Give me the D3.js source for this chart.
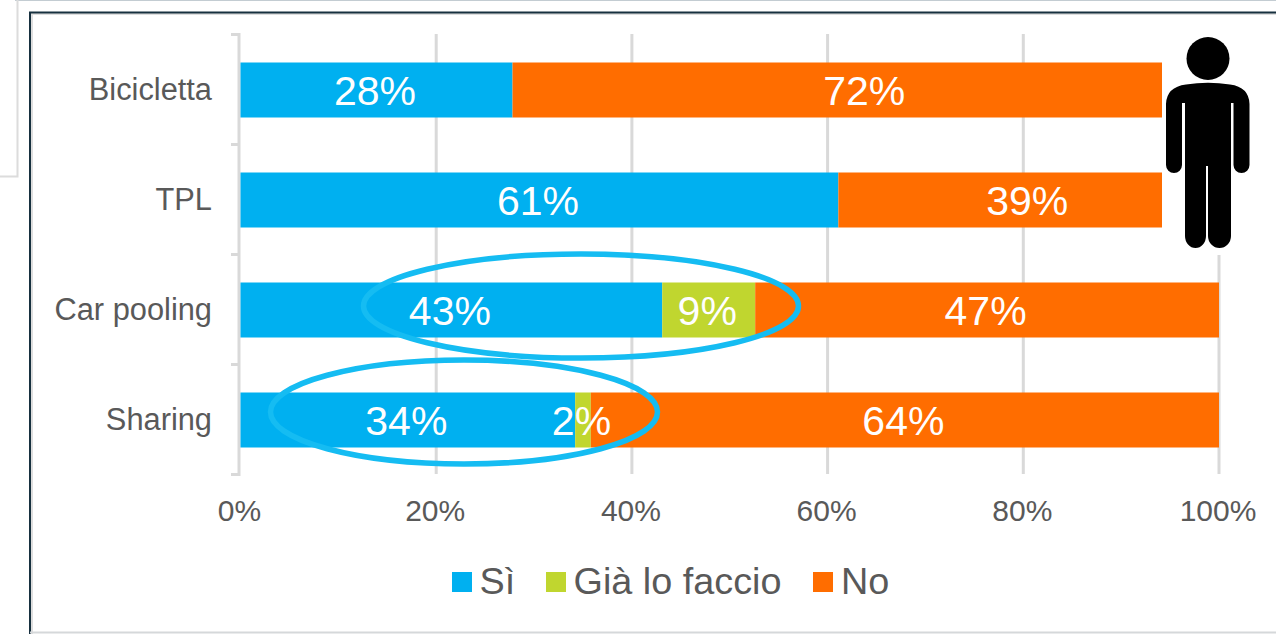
<!DOCTYPE html>
<html><head><meta charset="utf-8">
<script src="https://cdn.jsdelivr.net/npm/d3@7/dist/d3.min.js"></script>
<style>html,body{margin:0;padding:0;background:#fff;overflow:hidden}svg{display:block;font-family:"Liberation Sans",Arial,sans-serif}text{opacity:.995}</style>
</head><body><svg id="c" width="1276" height="634"></svg>
<script>
const categories = ["Bicicletta","TPL","Car pooling","Sharing"];
const seriesNames = ["Sì","Già lo faccio","No"];
const seriesColors = ["#00b0f0","#c0d62f","#ff6d00"];
const si = [27.8,61.1,43.1,34.2];
const gia = [0,0,9.5,1.6];
const no = [72.2,38.9,47.4,64.2];
const siLabels = ["28%","61%","43%","34%"];
const giaLabels = ["","","9%","2%"];
const noLabels = ["72%","39%","47%","64%"];
const xTicks = [0,20,40,60,80,100];

const svg = d3.select("#c");
const x = d3.scaleLinear().domain([0,100]).range([240.5,1219]);
const y = d3.scaleBand().domain(categories).range([35,475]).paddingInner(0.5).paddingOuter(0.25);
const GRID="#d9d9d9", TXT="#595959";

// page furniture
svg.append("path").attr("d","M15 0.5H1276").attr("stroke","#c3ccd2").attr("fill","none");
svg.append("path").attr("d","M17.5 0V176.5H0").attr("stroke","#dcdcdc").attr("stroke-width",2).attr("fill","none");
svg.append("rect").attr("x",30).attr("y",13).attr("width",1246).attr("height",619).attr("fill","#fff");
svg.append("path").attr("d","M32 634V14H1276").attr("stroke","#dedede").attr("stroke-width",2).attr("fill","none");
svg.append("path").attr("d","M30 634V12.5H1276").attr("stroke","#17303f").attr("stroke-width",2).attr("fill","none");
svg.append("path").attr("d","M30 632.5H1276").attr("stroke","#d5d8da").attr("stroke-width",2).attr("fill","none");
svg.append("rect").attr("x",33).attr("y",15).attr("width",1243).attr("height",616).attr("fill","#fff");

// grid
svg.append("g").selectAll("line").data(xTicks.slice(1)).join("line")
  .attr("x1",d=>x(d)).attr("x2",d=>x(d)).attr("y1",34).attr("y2",474)
  .attr("stroke",GRID).attr("stroke-width",3);

// category axis
const yAxis = svg.append("g");
yAxis.append("path").attr("d","M231 34.5H239V474.5H231").attr("fill","none").attr("stroke",GRID).attr("stroke-width",3);
yAxis.selectAll("line").data(categories.slice(1)).join("line")
  .attr("x1",231).attr("x2",239)
  .attr("y1",d=>y(d)-y.step()*0.25-0.5).attr("y2",d=>y(d)-y.step()*0.25-0.5)
  .attr("stroke",GRID).attr("stroke-width",3);
yAxis.selectAll("text").data(categories).join("text")
  .attr("x",212).attr("y",d=>y(d)+y.bandwidth()/2+10)
  .attr("text-anchor","end").attr("font-size",30.8).attr("fill",TXT).text(d=>d);

// bars
const rows = categories.map((c,i)=>({c,v:[si[i],gia[i],no[i]],l:[siLabels[i],giaLabels[i],noLabels[i]]}));
rows.forEach(r=>{
  let acc=0;
  r.v.forEach((v,k)=>{
    if(v>0){
      svg.append("rect").attr("x",x(acc)).attr("y",y(r.c)).attr("width",x(acc+v)-x(acc)).attr("height",y.bandwidth())
        .attr("fill",seriesColors[k]);
    }
    acc+=v;
  });
});
rows.forEach(r=>{
  let acc=0;
  r.v.forEach((v,k)=>{
    if(r.l[k]){
      svg.append("text").attr("x",x(acc+v/2)-1.5).attr("y",y(r.c)+y.bandwidth()/2+14.5)
        .attr("text-anchor","middle").attr("font-size",41).attr("fill","#fff").text(r.l[k]);
    }
    acc+=v;
  });
});

// x axis labels
svg.append("g").selectAll("text").data(xTicks).join("text")
  .attr("x",d=>x(d)-1).attr("y",521).attr("text-anchor","middle")
  .attr("font-size",30).attr("fill",TXT).text(d=>d+"%");

// legend
const legendX=[452,546,813], legendTextX=[479.5,573.5,841];
seriesNames.forEach((n,i)=>{
  svg.append("rect").attr("x",legendX[i]).attr("y",572).attr("width",20).attr("height",20).attr("fill",seriesColors[i]);
  svg.append("text").attr("x",legendTextX[i]).attr("y",594).attr("font-size",37.8).attr("fill",TXT).text(n);
});

// person picture with its white background
svg.append("rect").attr("x",1162).attr("y",16).attr("width",114).attr("height",239).attr("fill","#fff");
const p = svg.append("g").attr("fill","#000");
p.append("circle").attr("cx",1208).attr("cy",58.5).attr("r",21.5);
p.append("path").attr("d","M1186 84.5 Q1208 81 1230 84.5 Q1249 87 1249.5 104 V165 a8 8 0 0 1 -16 0 V103 H1231 V236 a11.5 12 0 0 1 -23 0 V166 H1206 V236 a10.5 12 0 0 1 -21 0 V103 H1182 V165 a8 8 0 0 1 -16 0 V104 Q1166.5 87 1186 84.5 Z");

// highlights
[[581,306,217.5,52],[464,412,193.5,52]].forEach(e=>{
  svg.append("ellipse").attr("cx",e[0]).attr("cy",e[1]).attr("rx",e[2]).attr("ry",e[3])
    .attr("fill","none").attr("stroke","#15bcf2").attr("stroke-width",5.5);
});
</script></body></html>
